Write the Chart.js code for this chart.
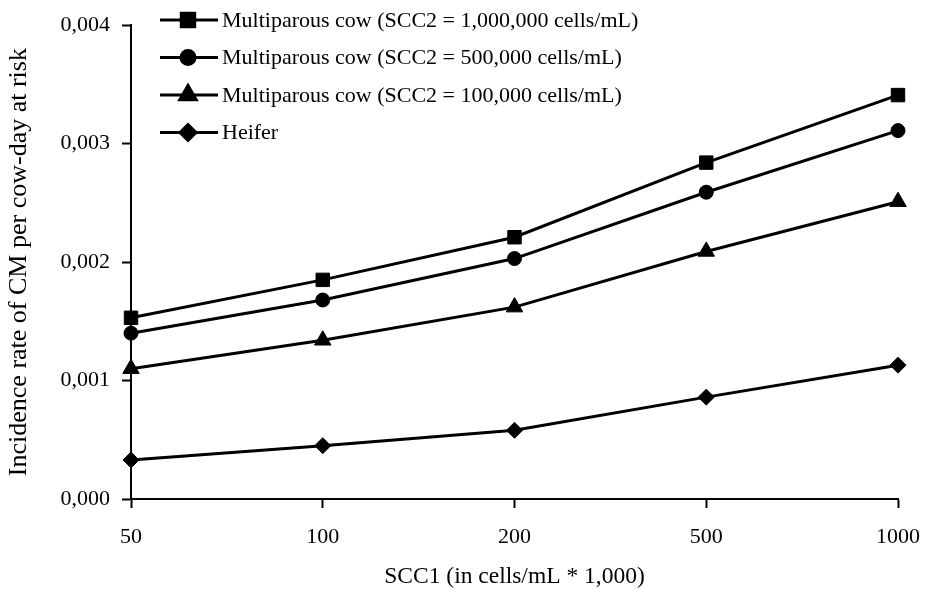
<!DOCTYPE html>
<html>
<head>
<meta charset="utf-8">
<script src="https://cdn.jsdelivr.net/npm/chart.js@4/dist/chart.umd.min.js"></script>
<style>
  html, body { margin: 0; padding: 0; background: #fff; }
  #wrap { width: 925px; height: 589px; }
</style>
</head>
<body>
<div id="wrap"><canvas id="c" width="925" height="589"></canvas></div>
<script>
// SCC1 categories (cells/mL * 1,000)
const categories = ['50', '100', '200', '500', '1000'];

// Incidence rate of clinical mastitis per cow-day at risk
const multiparous1000k = [0.00153, 0.00185, 0.00221, 0.00284, 0.00341];
const multiparous500k  = [0.00140, 0.00168, 0.00203, 0.00259, 0.00311];
const multiparous100k  = [0.00110, 0.00134, 0.00162, 0.00209, 0.00251];
const heifer           = [0.00033, 0.00045, 0.00058, 0.00086, 0.00113];

const seriesLabels = [
  'Multiparous cow (SCC2 = 1,000,000 cells/mL)',
  'Multiparous cow (SCC2 = 500,000 cells/mL)',
  'Multiparous cow (SCC2 = 100,000 cells/mL)',
  'Heifer'
];

const yTickLabels = ['0,000', '0,001', '0,002', '0,003', '0,004'];

const FONT = '"Liberation Serif", "Times New Roman", Times, serif';
const FONT_SIZE = 22;

function series(label, data, style, radius) {
  return {
    label: label,
    data: data,
    borderColor: '#000',
    backgroundColor: '#000',
    borderWidth: 3,
    tension: 0,
    pointStyle: style,
    pointRadius: radius,
    pointHoverRadius: radius,
    pointBackgroundColor: '#000',
    pointBorderColor: '#000',
    pointBorderWidth: 1
  };
}

// Legend drawn inside the plot area, top-left
const innerLegend = {
  id: 'innerLegend',
  afterDraw(chart) {
    const ctx = chart.ctx;
    const x0 = 160, x1 = 218, xm = 188, xt = 222;
    const y0 = 20, step = 37.5;
    ctx.save();
    chart.data.datasets.forEach((ds, i) => {
      const y = y0 + i * step;
      ctx.strokeStyle = '#000';
      ctx.fillStyle = '#000';
      ctx.lineWidth = 3;
      ctx.beginPath();
      ctx.moveTo(x0, y);
      ctx.lineTo(x1, y);
      ctx.stroke();
      Chart.helpers.drawPoint(ctx, {
        pointStyle: ds.pointStyle,
        radius: ds.pointRadius,
        borderWidth: 1,
        rotation: 0
      }, xm, y);
      ctx.fillStyle = '#000';
      ctx.font = FONT_SIZE + 'px ' + FONT;
      ctx.textBaseline = 'middle';
      ctx.textAlign = 'left';
      ctx.fillText(ds.label, xt, y + 1);
    });
    ctx.restore();
  }
};

new Chart(document.getElementById('c'), {
  type: 'line',
  data: {
    labels: categories,
    datasets: [
      series(seriesLabels[0], multiparous1000k, 'rect', 9.5),
      series(seriesLabels[1], multiparous500k, 'circle', 7),
      series(seriesLabels[2], multiparous100k, 'triangle', 9.5),
      series(seriesLabels[3], heifer, 'rectRot', 8)
    ]
  },
  options: {
    responsive: false,
    animation: false,
    layout: { padding: { top: 23, right: 27, bottom: 0, left: 0 } },
    plugins: {
      legend: { display: false },
      tooltip: { enabled: false }
    },
    scales: {
      x: {
        type: 'category',
        offset: false,
        afterFit(scale) {
          scale.height = 90;
          scale.paddingLeft = 0;
          scale.paddingRight = 0;
        },
        grid: {
          drawOnChartArea: false,
          drawTicks: true,
          tickLength: 9,
          tickWidth: 2,
          tickColor: '#000',
          offset: false
        },
        border: { color: '#000', width: 2 },
        ticks: {
          color: '#000',
          padding: 16,
          maxRotation: 0,
          font: { family: FONT, size: FONT_SIZE }
        },
        title: {
          display: true,
          text: 'SCC1 (in cells/mL * 1,000)',
          color: '#000',
          padding: { top: 0, bottom: 0 },
          font: { family: FONT, size: 23.5, lineHeight: 1.0 }
        }
      },
      y: {
        min: 0,
        max: 0.004,
        afterFit(scale) { scale.width = 131; },
        grid: {
          drawOnChartArea: false,
          drawTicks: true,
          tickLength: 9,
          tickWidth: 2,
          tickColor: '#000'
        },
        border: { color: '#000', width: 2 },
        ticks: {
          stepSize: 0.001,
          color: '#000',
          padding: 12,
          font: { family: FONT, size: FONT_SIZE },
          callback: (value, index) => yTickLabels[index]
        },
        title: {
          display: true,
          text: 'Incidence rate of CM per cow-day at risk',
          color: '#000',
          padding: { top: 4, bottom: 0 },
          font: { family: FONT, size: 26 }
        }
      }
    }
  },
  plugins: [innerLegend]
});
</script>
</body>
</html>
